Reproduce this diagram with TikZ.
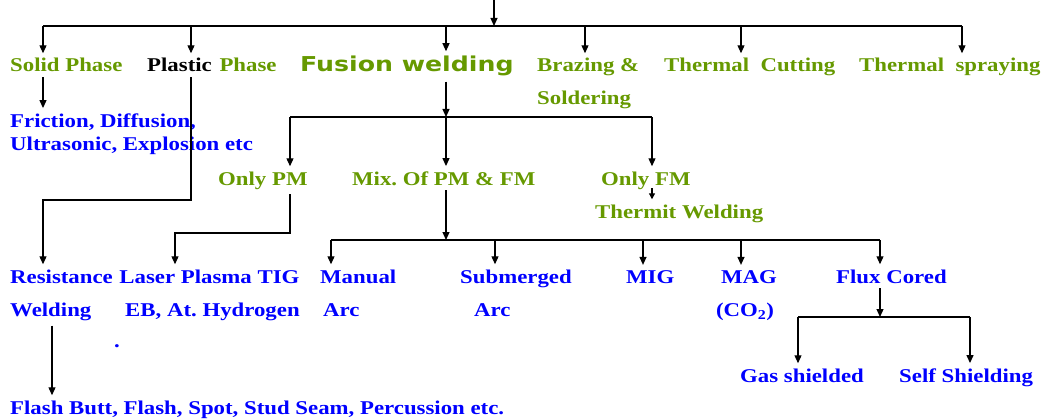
\documentclass[tikz,border=0pt]{standalone}
\usepackage{fontspec}
\usepackage{tikz}
\usepackage{xcolor}
\usetikzlibrary{arrows.meta,positioning}
\newfontfamily\lblfont{Liberation Serif}[FakeStretch=1.17]
\newfontfamily\fusfont{DejaVu Sans}[FakeStretch=1.23]
\definecolor{leafgreen}{HTML}{669900}
\definecolor{procblue}{HTML}{0000FF}
\tikzset{
  lbl/.style={anchor=base west,inner xsep=0pt,inner ysep=5pt,align=left,
              font=\lblfont\bfseries\fontsize{19.5}{23}\selectfont\frenchspacing},
  grnlbl/.style={lbl,text=leafgreen},
  blulbl/.style={lbl,text=procblue},
  wire/.style={line width=1.2pt,draw=black},
  arr/.style={-{Triangle[length=8pt,width=7pt]},line width=1.2pt,draw=black}
}
\begin{document}
\begin{tikzpicture}[x=1pt,y=-1pt]
    \useasboundingbox (0,0) rectangle (1045,420);

    % first level
    \node[grnlbl] (solid) at (10,72) {Solid Phase};
    \node[grnlbl] (plastic) at (147,72) {{\color{black}Plastic}\hspace{2pt} Phase};
    \node[lbl,text=leafgreen,font=\fusfont\bfseries\fontsize{20.5}{24}\selectfont]
      (fusion) at (300,72) {Fusion welding};
    \node[grnlbl] (brazing) at (537,105) {Brazing \&\\[10pt]Soldering};
    \node[grnlbl] (cutting) at (664,72) {Thermal\ \ Cutting};
    \node[grnlbl] (spraying) at (859,72) {Thermal\ \ spraying};

    \node[blulbl] (friction) at (10,150)
      {Friction, Diffusion,\\Ultrasonic, Explosion etc};

    % fusion welding branches
    \node[grnlbl] (onlypm) at (218,185) {Only PM};
    \node[grnlbl] (mix) at (352,185) {Mix. Of PM \& FM};
    \node[grnlbl] (onlyfm) at (601,185) {Only FM};
    \node[grnlbl] (thermit) at (595,218) {Thermit Welding};

    \node[blulbl] (resist) at (10,316) {Resistance\\[10pt]Welding};
    \node[blulbl,align=center] (laser) at (119,316)
      {Laser Plasma TIG\\[10pt]\hspace*{6pt}EB, At. Hydrogen};
    \node[blulbl] (manual) at (320,316) {Manual\\[10pt]\hspace*{3pt}Arc};
    \node[blulbl] (submerged) at (460,316) {Submerged\\[10pt]\hspace*{14pt}Arc};
    \node[blulbl] (mig) at (626,283) {MIG};
    \node[blulbl,align=center] (mag) at (713,316) {\hspace*{8pt}MAG\\[10pt](CO\textsubscript{2})};
    \node[blulbl] (flux) at (836,283) {Flux Cored};
    \node[blulbl] (dot) at (114,347) {.};

    \node[blulbl] (gas) at (740,382) {Gas shielded};
    \node[blulbl] (self) at (899,382) {Self Shielding};
    \node[blulbl] (flash) at (10,414)
      {Flash Butt, Flash, Spot, Stud Seam, Percussion etc.};

    % junctions
    \coordinate (src) at (494,0);
    \coordinate (bus) at (494,26);
    \coordinate (ba) at (43,26);
    \coordinate (bb) at (191,26);
    \coordinate (bc) at (446,26);
    \coordinate (bd) at (585,26);
    \coordinate (be) at (741,26);
    \coordinate (bf) at (962,26);
    \coordinate (fa) at (290,117);
    \coordinate (fb) at (446,117);
    \coordinate (fc) at (652,117);
    \coordinate (pla) at (191,200);
    \coordinate (plb) at (43,200);
    \coordinate (pma) at (290,233);
    \coordinate (pmb) at (175,233);
    \coordinate (fmout) at (652,188);
    \coordinate (ma) at (331,240);
    \coordinate (mb) at (446,240);
    \coordinate (mc) at (495,240);
    \coordinate (md) at (643,240);
    \coordinate (me) at (741,240);
    \coordinate (mf) at (880,240);
    \coordinate (ga) at (798,317);
    \coordinate (gb) at (880,317);
    \coordinate (gc) at (970,317);
    \coordinate (rw) at (52,300);

    \draw[arr] (src) -- (bus);
    \draw[wire] (ba) -- (bf);
    \draw[arr] (ba) -- (ba |- solid.north);
    \draw[arr] (bb) -- (bb |- plastic.north);
    \draw[arr] (bc) -- (bc |- fusion.north);
    \draw[arr] (bd) -- (bd |- brazing.north);
    \draw[arr] (be) -- (be |- cutting.north);
    \draw[arr] (bf) -- (bf |- spraying.north);

    \draw[arr] (ba |- solid.south) -- (ba |- friction.north);
    \draw[arr] (bb |- plastic.south) -- (pla) -- (plb) -- (plb |- resist.north);

    \draw[arr] (bc |- fusion.south) -- (fb);
    \draw[wire] (fa) -- (fc);
    \draw[arr] (fa) -- (fa |- onlypm.north);
    \draw[arr] (fb) -- (fb |- mix.north);
    \draw[arr] (fc) -- (fc |- onlyfm.north);
    \draw[-{Triangle[length=6pt,width=6pt]},line width=1.2pt] (fmout) -- (fmout |- thermit.north);

    \draw[arr] (fa |- onlypm.south) -- (pma) -- (pmb) -- (pmb |- laser.north);

    \draw[arr] (fb |- mix.south) -- (mb);
    \draw[wire] (ma) -- (mf);
    \draw[arr] (ma) -- (ma |- manual.north);
    \draw[arr] (mc) -- (mc |- submerged.north);
    \draw[arr] (md) -- (md |- mig.north);
    \draw[arr] (me) -- (me |- mag.north);
    \draw[arr] (mf) -- (mf |- flux.north);

    \draw[arr] (mf |- flux.south) -- (gb);
    \draw[wire] (ga) -- (gc);
    \draw[arr] (ga) -- (ga |- gas.north);
    \draw[arr] (gc) -- (gc |- self.north);

    \draw[arr] (rw |- resist.south) -- (rw |- flash.north);
  \end{tikzpicture}
\end{document}
